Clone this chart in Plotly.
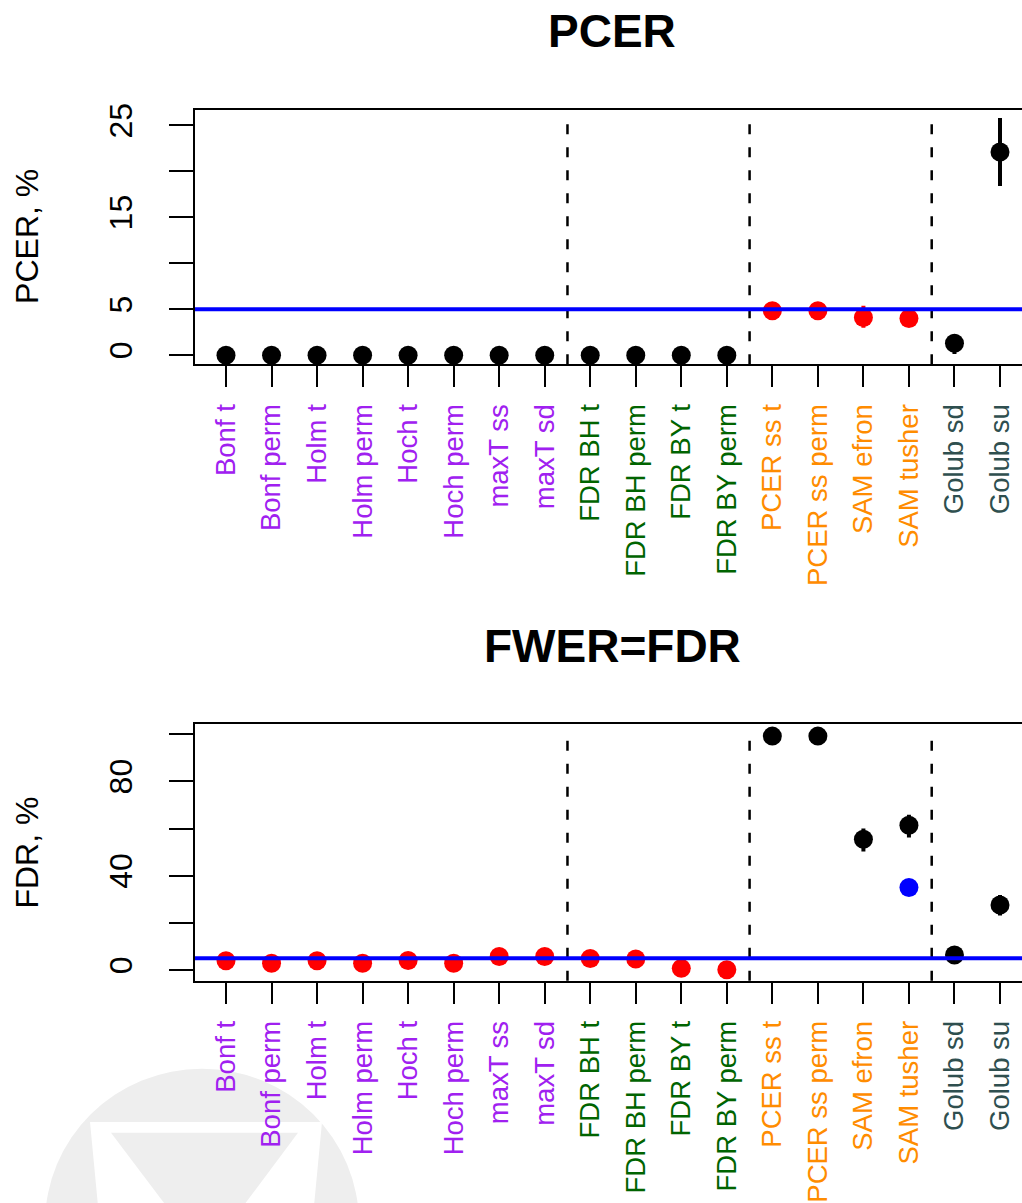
import plotly.graph_objects as go

W, H = 1022, 1203

methods = ["Bonf t", "Bonf perm", "Holm t", "Holm perm", "Hoch t", "Hoch perm",
           "maxT ss", "maxT sd", "FDR BH t", "FDR BH perm", "FDR BY t", "FDR BY perm",
           "PCER ss t", "PCER ss perm", "SAM efron", "SAM tusher", "Golub sd", "Golub su"]
label_colors = ["#A020F0"] * 8 + ["#006400"] * 4 + ["#FF8C00"] * 4 + ["#2F4F4F"] * 2

# Panel 1: PCER (%)
pcer = [0, 0, 0, 0, 0, 0, 0, 0, 0, 0, 0, 0, 4.85, 4.85, 4.1, 4.0, 1.3, 22.1]
pcer_err_plus = [0] * 14 + [1.3, 0.0, 1.0, 3.7]
pcer_err_minus = [0] * 14 + [1.1, 0.0, 1.15, 3.7]
pcer_colors = ["black"] * 12 + ["red"] * 4 + ["black"] * 2

# Panel 2: FWER=FDR (%)
fdr = [3.9, 2.9, 3.9, 2.9, 4.0, 2.9, 5.7, 5.7, 4.9, 4.7, 0.7, 0.1,
       99.2, 99.2, 55.5, 61.4, 6.4, 27.6]
fdr_err_plus = [0] * 14 + [4.5, 4.4, 0, 4.2]
fdr_err_minus = [0] * 14 + [5.2, 5.2, 0, 4.5]
fdr_colors = ["red"] * 12 + ["black"] * 6
fdr_extra_x = [16]
fdr_extra_y = [35.0]

nominal = 5
group_breaks = [8.5, 12.5, 16.5]

xs = list(range(1, len(methods) + 1))
ticktext = [f'<span style="color:{c}">{m}</span>' for m, c in zip(methods, label_colors)]


def px_x(p):
    return p / W


def px_y(p):
    return 1 - p / H


FONT = "Liberation Sans, Arial, Helvetica, sans-serif"

fig = go.Figure()

for col in ["black", "red"]:
    idx = [i for i, c in enumerate(pcer_colors) if c == col]
    fig.add_trace(go.Scatter(
        x=[xs[i] for i in idx], y=[pcer[i] for i in idx], mode="markers",
        xaxis="x", yaxis="y",
        marker=dict(color=col, size=19, line=dict(width=0)),
        error_y=dict(type="data", symmetric=False,
                     array=[pcer_err_plus[i] for i in idx],
                     arrayminus=[pcer_err_minus[i] for i in idx],
                     width=0, thickness=4, color=col),
        showlegend=False, hoverinfo="skip"))
for col in ["black", "red"]:
    idx = [i for i, c in enumerate(fdr_colors) if c == col]
    fig.add_trace(go.Scatter(
        x=[xs[i] for i in idx], y=[fdr[i] for i in idx], mode="markers",
        xaxis="x2", yaxis="y2",
        marker=dict(color=col, size=19, line=dict(width=0)),
        error_y=dict(type="data", symmetric=False,
                     array=[fdr_err_plus[i] for i in idx],
                     arrayminus=[fdr_err_minus[i] for i in idx],
                     width=0, thickness=4, color=col),
        showlegend=False, hoverinfo="skip"))
fig.add_trace(go.Scatter(
    x=fdr_extra_x, y=fdr_extra_y, mode="markers", xaxis="x2", yaxis="y2",
    marker=dict(color="blue", size=19, line=dict(width=0)),
    showlegend=False, hoverinfo="skip"))

xaxis_common = dict(
    range=[1 - 31 / 45.53, 18 + 22 / 45.53], tickmode="array", tickvals=xs,
    ticktext=ticktext, tickangle=-90, ticks="outside", ticklen=21, tickwidth=2,
    tickcolor="black", showline=True, linecolor="black", linewidth=2, mirror=True,
    showgrid=False, zeroline=False, tickfont=dict(family=FONT, size=27.5),
    ticklabelstandoff=6, fixedrange=True)
yaxis_common = dict(
    ticks="outside", ticklen=24, tickwidth=2, tickcolor="black",
    showline=True, linecolor="black", linewidth=2, mirror=False,
    showgrid=False, zeroline=False, tickangle=-90,
    tickfont=dict(family=FONT, size=32, color="black"), ticklabelstandoff=24,
    fixedrange=True)

fig.update_layout(
    width=W, height=H, margin=dict(l=0, r=0, t=0, b=0),
    paper_bgcolor="white", plot_bgcolor="white",
    xaxis=dict(domain=[px_x(195), 1.0], anchor="y", **xaxis_common),
    yaxis=dict(domain=[px_y(362), px_y(104)], anchor="x",
               range=[-0.97, 26.72], tickmode="array",
               tickvals=[0, 5, 10, 15, 20, 25],
               ticktext=["0", "5", "", "15", "", "25"], **yaxis_common),
    xaxis2=dict(domain=[px_x(195), 1.0], anchor="y2", **xaxis_common),
    yaxis2=dict(domain=[px_y(987), px_y(727)], anchor="x2",
                range=[-4.6, 104.2], tickmode="array",
                tickvals=[0, 20, 40, 60, 80, 100],
                ticktext=["0", "", "40", "", "80", ""], **yaxis_common),
)

shapes = []
# faint watermark (behind everything)
shapes.append(dict(type="circle", xref="paper", yref="paper",
                   x0=px_x(202 - 157), x1=px_x(202 + 157),
                   y0=px_y(1233 + 157), y1=px_y(1233 - 157),
                   fillcolor="#eeeeee", line=dict(width=0), layer="below"))
shapes.append(dict(type="path", xref="paper", yref="paper",
                   path=f"M {px_x(90)} {px_y(1130)} L {px_x(322)} {px_y(1130)} "
                        f"L {px_x(314)} {px_y(1215)} L {px_x(206)} {px_y(1330)} "
                        f"L {px_x(98)} {px_y(1215)} Z",
                   fillcolor="#ffffff", line=dict(width=0), layer="below"))
shapes.append(dict(type="path", xref="paper", yref="paper",
                   path=f"M {px_x(111)} {px_y(1141)} L {px_x(298)} {px_y(1141)} "
                        f"L {px_x(205)} {px_y(1267)} Z",
                   fillcolor="#eeeeee", line=dict(width=0), layer="below"))

for xa, ya in [("x", "y"), ("x2", "y2")]:
    for b in group_breaks:
        shapes.append(dict(type="line", xref=xa, yref=f"{ya} domain",
                           x0=b, x1=b, y0=0, y1=0.97,
                           line=dict(color="black", width=2.5, dash="10px,13px"),
                           layer="above"))
    shapes.append(dict(type="line", xref=f"{xa} domain", yref=ya,
                       x0=0, x1=1, y0=nominal, y1=nominal,
                       line=dict(color="#0000FF", width=4), layer="above"))
fig.update_layout(shapes=shapes)

annotations = [
    dict(text="<b>PCER</b>", x=px_x(612), y=px_y(24), xref="paper", yref="paper",
         showarrow=False, font=dict(family=FONT, size=46, color="black"),
         xanchor="center", yanchor="middle"),
    dict(text="<b>FWER=FDR</b>", x=px_x(612), y=px_y(648), xref="paper", yref="paper",
         showarrow=False, font=dict(family=FONT, size=46, color="black"),
         xanchor="center", yanchor="middle"),
    dict(text="PCER, %", x=px_x(27), y=px_y(233), xref="paper", yref="paper",
         showarrow=False, textangle=-90, font=dict(family=FONT, size=32, color="black"),
         xanchor="center", yanchor="middle"),
    dict(text="FDR, %", x=px_x(27), y=px_y(857), xref="paper", yref="paper",
         showarrow=False, textangle=-90, font=dict(family=FONT, size=32, color="black"),
         xanchor="center", yanchor="middle"),
]
fig.update_layout(annotations=annotations)

fig.write_html("out.html")
